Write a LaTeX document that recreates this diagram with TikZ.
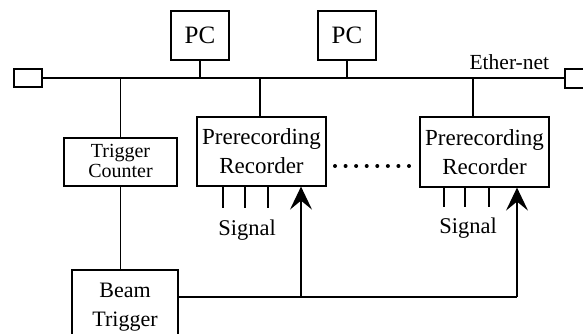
\documentclass[tikz,border=0pt]{standalone}
\usepackage{fontspec}
\setmainfont{Liberation Serif}
\usetikzlibrary{arrows.meta,calc}
\begin{document}
\begin{tikzpicture}[x=1pt,y=-1pt,
  line width=1.2pt,
  box/.style={draw,rectangle,inner sep=0pt,align=center},
  arr/.style={-{Stealth[length=23pt,width=22pt,inset=9pt]}},
  sig/.style={line width=1.1pt}]
\clip (0,0) rectangle (583,334);
\useasboundingbox (0,0) rectangle (583,334);
% ethernet end boxes
\node[box,minimum width=28pt,minimum height=18pt] (eL) at (28,78) {};
\node[box,minimum width=28pt,minimum height=19pt] (eR) at (579,78.5) {};
\draw (eL.east) -- (eR.west |- eL.east);
\node[anchor=base west,inner sep=0pt,font=\fontsize{21.5}{26}\selectfont] (eth) at (469,70) {Ether-net};
% PCs
\node[box,minimum width=58pt,minimum height=49pt,font=\fontsize{25}{30}\selectfont] (pc1) at (200,35.5) {PC};
\node[box,minimum width=58pt,minimum height=49pt,font=\fontsize{25}{30}\selectfont] (pc2) at (347,35.5) {PC};
\draw (pc1.south) -- (pc1.south |- eL.east);
\draw (pc2.south) -- (pc2.south |- eL.east);
% trigger counter
\node[box,minimum width=113pt,minimum height=48pt,font=\fontsize{20}{23}\selectfont] (tc) at (120.5,162) {\raisebox{2pt}{\shortstack{Trigger\\[-1pt]Counter}}};
\draw (tc.north |- eL.east) -- (tc.north);
% prerecorders
\node[box,minimum width=129pt,minimum height=69pt,font=\fontsize{23}{29}\selectfont] (pr1) at (261.5,151.5) {Prerecording\\Recorder};
\node[box,minimum width=129pt,minimum height=70pt,font=\fontsize{23}{29}\selectfont] (pr2) at (484.5,152) {Prerecording\\Recorder};
\coordinate (s1) at (260,78);
\coordinate (s2) at (473,78);
\draw (s1) -- (s1 |- pr1.north);
\draw (s2) -- (s2 |- pr2.north);
% dots
\foreach \i in {0,...,7} \fill (335+\i*10.57,166) circle (2pt);
% signals
\foreach \x in {223,245,268} \draw[sig] (\x,186) -- (\x,208);
\foreach \x in {444,465,489} \draw[sig] (\x,187) -- (\x,207);
\node[anchor=base,inner sep=0pt,font=\fontsize{22.5}{27}\selectfont] (sg1) at (247,235) {Signal};
\node[anchor=base,inner sep=0pt,font=\fontsize{22.5}{27}\selectfont] (sg2) at (468,233) {Signal};
% beam trigger
\node[box,minimum width=106pt,minimum height=75pt,font=\fontsize{22}{29}\selectfont] (bt) at (125,307.5) {Beam\\Trigger};
\draw (tc.south) -- (tc.south |- bt.north);
\coordinate (j1) at (301,297);
\coordinate (j2) at (517,297);
\draw (bt.east |- j2) -- (j2);
\draw[arr] (j1) -- (j1 |- pr1.south);
\draw[arr] (j2) -- (j2 |- pr2.south);
\end{tikzpicture}
\end{document}
